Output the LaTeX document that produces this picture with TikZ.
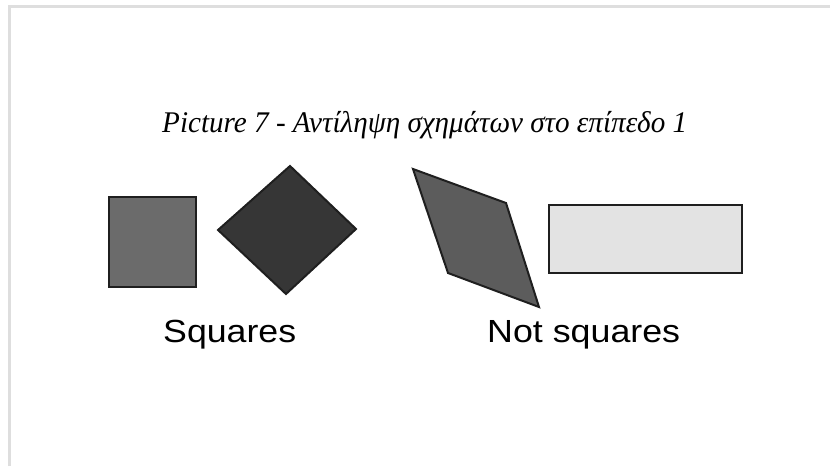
\documentclass[tikz,border=0pt]{standalone}
\usepackage{fontspec}
\setmainfont{Liberation Serif}
\newfontfamily\labelfont{Liberation Sans}
\newsavebox\titlebox
\newsavebox\sqbox
\newsavebox\nsqbox
\begin{document}
\sbox\titlebox{\fontsize{30}{36}\selectfont\itshape Picture 7 - Αντίληψη σχημάτων στο επίπεδο 1}
\sbox\sqbox{\labelfont\fontsize{32}{38}\selectfont Squares}
\sbox\nsqbox{\labelfont\fontsize{32}{38}\selectfont Not squares}
\begin{tikzpicture}[x=1pt,y=-1pt,
  frameline/.style={draw=black!13,line width=2.5pt},
  shapeline/.style={draw=black!88,line width=2pt,line join=miter},
  label/.style={inner sep=0pt,anchor=base west,text=black!78}]
\useasboundingbox (0,0) rectangle (830,466);
\pgfmathsetmacro\tsx{525/\the\wd\titlebox}
\pgfmathsetmacro\ssx{133/\the\wd\sqbox}
\pgfmathsetmacro\nsx{193/\the\wd\nsqbox}
% frame
\draw[frameline] (9.7,466) -- (9.7,6.3) -- (830,6.3);
% title
\node[inner sep=0pt,anchor=base west] (title) at (162,132) {\scalebox{\tsx}[1]{\usebox\titlebox}};
% squares
\path[shapeline,fill=black!58] (109,197) rectangle (196,287);
\path[shapeline,fill=black!79] (218,230) -- (290,166) -- (356,229) -- (286,294) -- cycle;
% not squares
\path[shapeline,fill=black!64] (413,169) -- (506,203) -- (539,307) -- (448,273) -- cycle;
\path[shapeline,fill=black!11] (549,205) rectangle (742,273);
% labels
\node[label] (sq) at (163,342) {\scalebox{\ssx}[1]{\usebox\sqbox}};
\node[label] (nsq) at (487,342) {\scalebox{\nsx}[1]{\usebox\nsqbox}};
\end{tikzpicture}
\end{document}
